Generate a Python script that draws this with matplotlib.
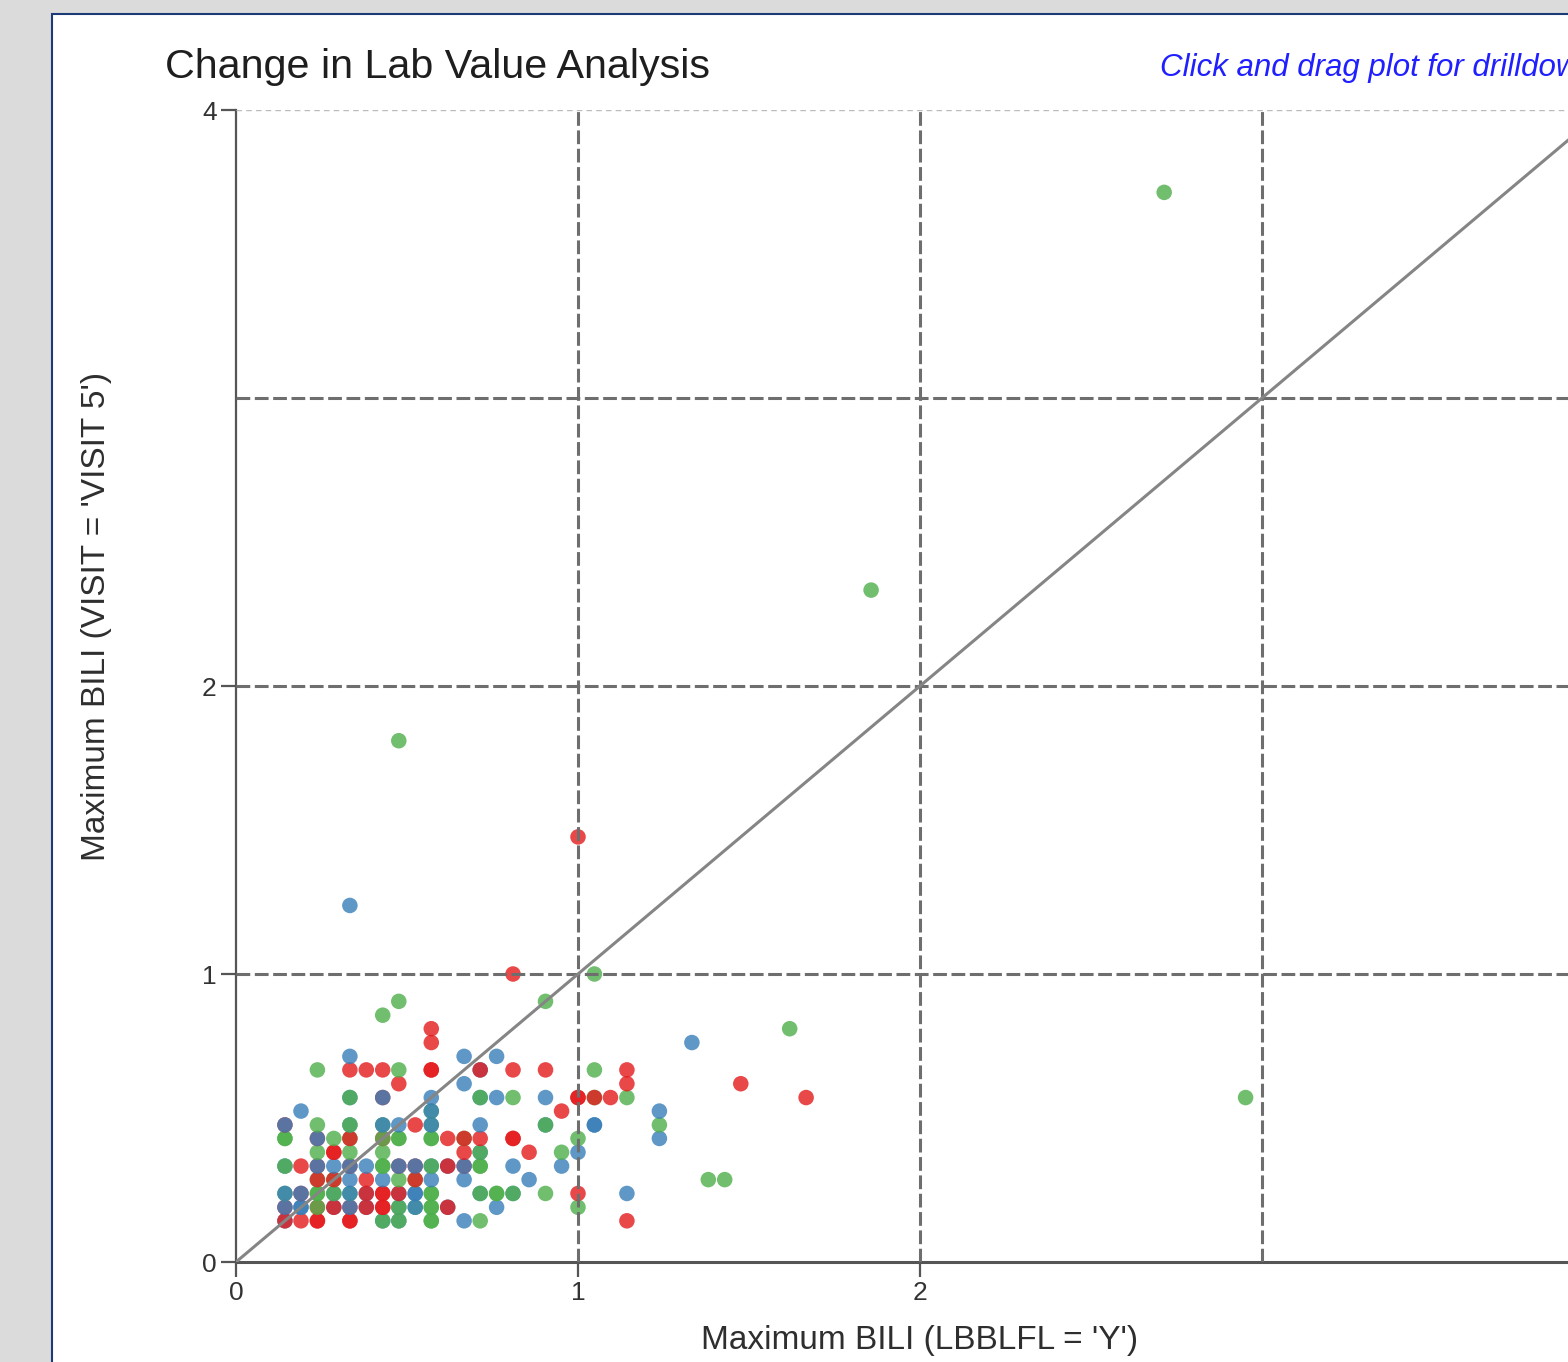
import matplotlib.pyplot as plt
from matplotlib.patches import Rectangle

# Maximum BILI at baseline (x) and at visit 5 (y), one entry per subject, in drawing order
bili_base = [
    0.143, 0.143, 0.190, 0.238, 0.238, 0.333, 0.333, 0.429, 0.429, 0.476, 0.476, 0.571, 0.571, 0.667, 0.714, 1.143,
    0.143, 0.143, 0.190, 0.190, 0.238, 0.238, 0.286, 0.286, 0.333, 0.333, 0.381, 0.381, 0.429, 0.429, 0.476, 0.476,
    0.524, 0.524, 0.571, 0.571, 0.619, 0.619, 0.762, 1.0,
    0.143, 0.143, 0.190, 0.190, 0.238, 0.238, 0.286, 0.286, 0.333, 0.333, 0.381, 0.381, 0.429, 0.429, 0.476, 0.476,
    0.524, 0.524, 0.571, 0.571, 0.714, 0.714, 0.762, 0.762, 0.810, 0.810, 0.905, 1.0, 1.143,
    0.238, 0.238, 0.286, 0.286, 0.333, 0.381, 0.429, 0.476, 0.524, 0.524, 0.571, 0.667, 0.857, 1.381, 1.429,
    0.143, 0.143, 0.190, 0.238, 0.238, 0.286, 0.333, 0.333, 0.381, 0.429, 0.429, 0.476, 0.476, 0.524, 0.524, 0.571,
    0.571, 0.619, 0.619, 0.667, 0.667, 0.714, 0.714, 0.810, 0.952,
    0.238, 0.286, 0.286, 0.333, 0.429, 0.667, 0.714, 0.714, 0.857, 0.952, 1.0,
    0.143, 0.143, 0.238, 0.238, 0.286, 0.333, 0.333, 0.429, 0.429, 0.476, 0.476, 0.571, 0.571, 0.619, 0.667, 0.667,
    0.714, 0.810, 0.810, 1.0, 1.238,
    0.143, 0.143, 0.238, 0.333, 0.333, 0.429, 0.429, 0.476, 0.524, 0.571, 0.571, 0.714, 0.905, 0.905, 1.048, 1.048, 1.238,
    0.190, 0.571, 0.571, 0.952, 1.238,
    0.333, 0.333, 0.429, 0.429, 0.571, 0.714, 0.714, 0.762, 0.810, 0.905, 1.0, 1.0, 1.048, 1.048, 1.095, 1.143,
    1.667, 2.952,
    0.476, 0.667, 1.143, 1.476,
    0.238, 0.333, 0.381, 0.429, 0.476, 0.571, 0.571, 0.714, 0.714, 0.810, 0.905, 1.048, 1.143,
    0.333, 0.667, 0.762,
    0.571, 1.333,
    0.571, 1.619,
    0.429,
    0.476, 0.905,
    0.810, 1.048,
    0.333,
    1.0,
    0.476,
    1.857,
    2.714,
]
bili_visit5 = [
    0.143, 0.143, 0.143, 0.143, 0.143, 0.143, 0.143, 0.143, 0.143, 0.143, 0.143, 0.143, 0.143, 0.143, 0.143, 0.143,
    0.190, 0.190, 0.190, 0.190, 0.190, 0.190, 0.190, 0.190, 0.190, 0.190, 0.190, 0.190, 0.190, 0.190, 0.190, 0.190,
    0.190, 0.190, 0.190, 0.190, 0.190, 0.190, 0.190, 0.190,
    0.238, 0.238, 0.238, 0.238, 0.238, 0.238, 0.238, 0.238, 0.238, 0.238, 0.238, 0.238, 0.238, 0.238, 0.238, 0.238,
    0.238, 0.238, 0.238, 0.238, 0.238, 0.238, 0.238, 0.238, 0.238, 0.238, 0.238, 0.238, 0.238,
    0.286, 0.286, 0.286, 0.286, 0.286, 0.286, 0.286, 0.286, 0.286, 0.286, 0.286, 0.286, 0.286, 0.286, 0.286,
    0.333, 0.333, 0.333, 0.333, 0.333, 0.333, 0.333, 0.333, 0.333, 0.333, 0.333, 0.333, 0.333, 0.333, 0.333, 0.333,
    0.333, 0.333, 0.333, 0.333, 0.333, 0.333, 0.333, 0.333, 0.333,
    0.381, 0.381, 0.381, 0.381, 0.381, 0.381, 0.381, 0.381, 0.381, 0.381, 0.381,
    0.429, 0.429, 0.429, 0.429, 0.429, 0.429, 0.429, 0.429, 0.429, 0.429, 0.429, 0.429, 0.429, 0.429, 0.429, 0.429,
    0.429, 0.429, 0.429, 0.429, 0.429,
    0.476, 0.476, 0.476, 0.476, 0.476, 0.476, 0.476, 0.476, 0.476, 0.476, 0.476, 0.476, 0.476, 0.476, 0.476, 0.476, 0.476,
    0.524, 0.524, 0.524, 0.524, 0.524,
    0.571, 0.571, 0.571, 0.571, 0.571, 0.571, 0.571, 0.571, 0.571, 0.571, 0.571, 0.571, 0.571, 0.571, 0.571, 0.571,
    0.571, 0.571,
    0.619, 0.619, 0.619, 0.619,
    0.667, 0.667, 0.667, 0.667, 0.667, 0.667, 0.667, 0.667, 0.667, 0.667, 0.667, 0.667, 0.667,
    0.714, 0.714, 0.714,
    0.762, 0.762,
    0.810, 0.810,
    0.857,
    0.905, 0.905,
    1.0, 1.0,
    1.238,
    1.476,
    1.810,
    2.333,
    3.714,
]
# treatment arm of each subject: R / G / B
arm = "".join([
    "BRRRRRRBGBGGGBGR",
    "RBBBRGBRRBBRRRBGGBGGBRBG",
    "GBRBGGBGGBBRRRBRBBGGBGGGBGGRB",
    "GRGRBRBGGRBBBGG",
    "BGRRBBRBBGGRBRBBGBRRBGGBB",
    "GRRGGRBGRGB",
    "GGRBGGRRGGGGGRGRRRRGB",
    "RBGBGGBBRGBBBGBBG",
    "BGBRB",
    "BGRBBBGBGBRRGRRGRG",
    "RBRR",
    "GRRRGRRBRRRGR",
    "BBB", "RB", "RG", "G", "GG", "RG", "B", "R", "G", "G", "G",
])
arm_colors = {"R": "#e41a1c", "G": "#4daf4a", "B": "#377eb8"}

x_ticks = [0, 1, 2]
y_ticks = [0, 1, 2, 4]
ref_lines = [1, 2, 3]

W, H = 1568, 1362
plt.rcParams['font.family'] = ['Liberation Sans', 'DejaVu Sans']

fig = plt.figure(figsize=(W / 100, H / 100), dpi=100)
fig.patch.set_facecolor('#dbdbdb')
fig.add_artist(Rectangle((52 / W, -0.1), 1.2, 1.1 - 14 / H, transform=fig.transFigure,
                         facecolor='white', edgecolor='#1d3a78', lw=1.5, zorder=0))

ax = fig.add_axes([236 / W, 100 / H, 4 * 342 / W, 1152 / H])
ax.set_facecolor('none')
ax.set_xlim(0, 4)
ax.set_ylim(0, 4)

ax.scatter(bili_base, bili_visit5, s=125, c=[arm_colors[a] for a in arm],
           alpha=0.8, linewidths=0, zorder=2, clip_on=False)

for v in ref_lines:
    ax.axvline(v, color='#6e6e6e', lw=2.2, dashes=(4.5, 1.5), zorder=3)
    ax.axhline(v, color='#6e6e6e', lw=2.2, dashes=(4.5, 1.5), zorder=3)
ax.axhline(4, color='#bbbbbb', lw=1, dashes=(4, 3), zorder=3)
ax.plot([0, 4], [0, 4], color='#858585', lw=2.2, zorder=3)

for side in ['top', 'right']:
    ax.spines[side].set_visible(False)
ax.spines['left'].set_color('#555555')
ax.spines['left'].set_linewidth(1.6)
ax.spines['bottom'].set_color('#555555')
ax.spines['bottom'].set_linewidth(2.2)

ax.set_xticks(x_ticks)
ax.set_yticks(y_ticks)
ax.tick_params(length=11, width=1.6, color='#555555', labelsize=19, labelcolor='#333333', pad=3)

fig.text(165 / W, 1 - 78 / H, 'Change in Lab Value Analysis', fontsize=29.7, color='#1e1e1e', va='baseline')
fig.text(1160 / W, 1 - 76 / H, 'Click and drag plot for drilldown', fontsize=22.5, color='#1f1fff',
         style='italic', va='baseline')
fig.text(97 / W, 1 - 616 / H, "Maximum BILI (VISIT = 'VISIT 5')", fontsize=24, color='#2e2e2e',
         rotation=90, ha='center', va='center')
fig.text(920 / W, 1 - 1340 / H, "Maximum BILI (LBBLFL = 'Y')", fontsize=24, color='#2e2e2e',
         ha='center', va='center')

fig.savefig('out.png', dpi=100, facecolor=fig.get_facecolor())
